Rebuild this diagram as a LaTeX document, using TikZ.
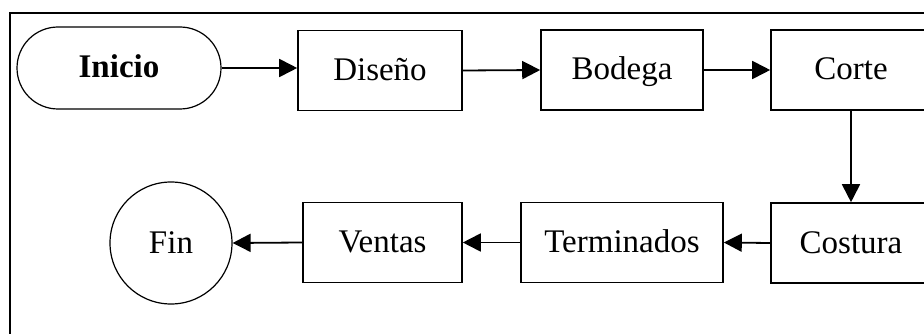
\documentclass[tikz,border=0pt]{standalone}
\usepackage{fontspec}
\setmainfont{Liberation Serif}
\usetikzlibrary{arrows.meta,shapes.misc}
\begin{document}
\begin{tikzpicture}[x=1pt,y=-1pt,
  txt/.style={font=\fontsize{33}{40}\selectfont, text height=25pt, text depth=5pt},
  box/.style={draw, line width=1.6pt, rectangle, minimum width=#1, minimum height=80pt, inner sep=0pt, txt},
  box/.default=160pt,
  flow/.style={line width=1.8pt, -{Triangle[length=18pt,width=18pt]}}]
\useasboundingbox (0,0) rectangle (924,334);
\clip (0,0) rectangle (924,334);
\draw[line width=2.6pt] (10,334) -- (10,13) -- (924,13);
\node[draw, line width=1.2pt, rounded rectangle, minimum width=204pt, minimum height=82pt, inner sep=0pt, txt, font=\fontsize{33}{40}\selectfont\bfseries] (inicio) at (119,68) {Inicio};
\node[box=164pt] (diseno) at (380,70.5) {Diseño};
\node[box=162pt] (bodega) at (622,70) {Bodega};
\node[box=160pt] (corte) at (851,70) {Corte};
\node[box=160pt] (costura) at (851,243) {Costura};
\node[box=202pt] (term) at (622,242.5) {Terminados};
\node[box=159pt] (ventas) at (382.5,242.5) {Ventas};
\node[draw, line width=1.2pt, circle, minimum size=122pt, inner sep=0pt, txt] (fin) at (171,243) {Fin};
\draw[flow] (inicio.east) -- (inicio.east -| diseno.west);
\draw[flow] (diseno.east) -- (bodega.west);
\draw[flow] (bodega.east) -- (corte.west);
\draw[flow] (corte.south) -- (costura.north);
\draw[flow] (costura.west) -- (term.east);
\draw[flow] (term.west) -- (ventas.east);
\draw[flow] (ventas.west) -- (fin.east);
\end{tikzpicture}
\end{document}
